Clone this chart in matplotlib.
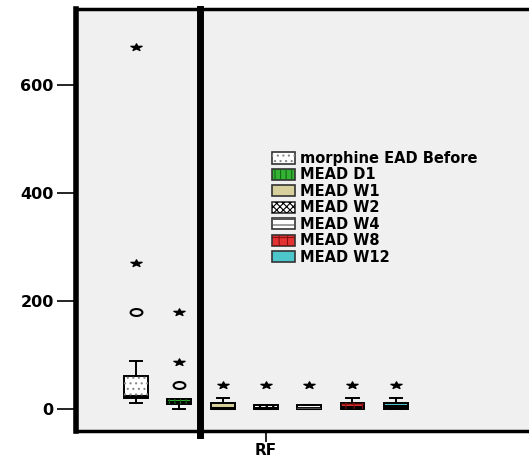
import numpy as np
import matplotlib
matplotlib.use("Agg")
import matplotlib.pyplot as plt
from matplotlib.patches import Patch, Rectangle
from matplotlib.path import Path

# data
categories = ["morphine EAD Before", "MEAD D1", "MEAD W1", "MEAD W2",
              "MEAD W4", "MEAD W8", "MEAD W12"]
whislo = [10, 0, 0, 0, 0, 0, 0]
q1 = [20, 9, 0, 0, 0, 0, 0]
med = [23, 12, 2, 2, 2, 3, 5]
q3 = [61, 19, 10, 8, 8, 10, 10]
whishi = [89, 19, 20, 8, 8, 20, 20]
outliers = [[180], [44], [], [], [], [], []]
extremes = [[270, 670], [87, 180], [44], [44], [44], [44], [44]]
group_label = "RF"

faces = ["white", "#33b233", "#d8d09c", "white", "white", "#e23232", "#4cc6ca"]
hatches = ["...", "|||", "", "xxxxx", "---", "++", ""]
hatch_cols = ["#888888", "#146a14", "none", "black", "#555555", "#8a1010", "none"]

plt.rcParams["font.family"] = "DejaVu Sans"
plt.rcParams["font.weight"] = "bold"
plt.rcParams["hatch.linewidth"] = 0.8

fig = plt.figure(figsize=(5.29, 4.59), dpi=100)
ax = fig.add_axes([76 / 529, 1 - 431 / 459, (560 - 76) / 529, (431 - 9) / 459])
ax.set_facecolor("#f0f0f0")

pos = np.arange(1, len(categories) + 1)
stats = []
for i in range(len(categories)):
    stats.append(dict(med=med[i], q1=q1[i], q3=q3[i], whislo=whislo[i],
                      whishi=whishi[i], fliers=[]))

bw = 0.55
bp = ax.bxp(stats, positions=pos, widths=bw, patch_artist=True,
            showfliers=False, capwidths=0.28,
            boxprops=dict(edgecolor="black", linewidth=1.4),
            medianprops=dict(color="black", linewidth=2.2),
            whiskerprops=dict(color="black", linewidth=1.4),
            capprops=dict(color="black", linewidth=1.4))
for i, box in enumerate(bp["boxes"]):
    box.set_facecolor(faces[i])
    if hatches[i]:
        ax.add_patch(Rectangle((pos[i] - bw / 2, q1[i]), bw, q3[i] - q1[i],
                               fill=False, hatch=hatches[i],
                               edgecolor=hatch_cols[i], linewidth=0, zorder=2.5))

# stretched marker shapes (the reference is squashed horizontally)
circ = Path.unit_circle()
ellipse = Path(circ.vertices * np.array([1.7, 1.0]), circ.codes)
st = Path.unit_regular_star(5, 0.38)
star = Path(st.vertices * np.array([1.6, 1.0]), st.codes)

for i in range(len(categories)):
    if outliers[i]:
        ax.plot([pos[i]] * len(outliers[i]), outliers[i], linestyle="none",
                marker=ellipse, markersize=8.5, markerfacecolor="none",
                markeredgecolor="black", markeredgewidth=1.5, zorder=4)
    if extremes[i]:
        ax.plot([pos[i]] * len(extremes[i]), extremes[i], linestyle="none",
                marker=star, markersize=8, color="black", zorder=4)

x0 = 1 - (136 - 76) / 43.3
x1 = 1 + (560 - 136) / 43.3
ax.set_xlim(x0, x1)
ax.set_ylim(-41, 741)

ax.axvline(1 + (200 - 136) / 43.3, ymin=-0.01, ymax=1, color="black",
           linewidth=5, clip_on=False, zorder=5)

ax.set_yticks([0, 200, 400, 600])
ax.set_yticklabels(["0", "200", "400", "600"], fontsize=11.5, fontweight="bold")
ax.set_xticks([4])
ax.set_xticklabels([group_label], fontsize=11, fontweight="bold")
ax.tick_params(axis="y", length=14, width=1.2, pad=2)
ax.tick_params(axis="x", length=8, width=1.2, pad=0.5)

ax.spines["left"].set_linewidth(4)
ax.spines["top"].set_linewidth(2.5)
ax.spines["bottom"].set_linewidth(2.5)
ax.spines["right"].set_visible(False)

handles = []
for i in range(len(categories)):
    base = Patch(facecolor=faces[i], edgecolor="#333333", linewidth=1.2)
    if hatches[i]:
        over = Patch(facecolor="none", edgecolor=hatch_cols[i], hatch=hatches[i],
                     linewidth=0)
        handles.append((base, over))
    else:
        handles.append(base)
fig.legend(handles, categories, loc="upper left",
           bbox_to_anchor=(272 / 529, 1 - 151 / 459), frameon=False,
           prop=dict(size=10.5, weight="bold"), handlelength=1.55,
           handleheight=0.8, handletextpad=0.35, labelspacing=0.1,
           borderpad=0, borderaxespad=0)

fig.savefig("out.png", dpi=100)
